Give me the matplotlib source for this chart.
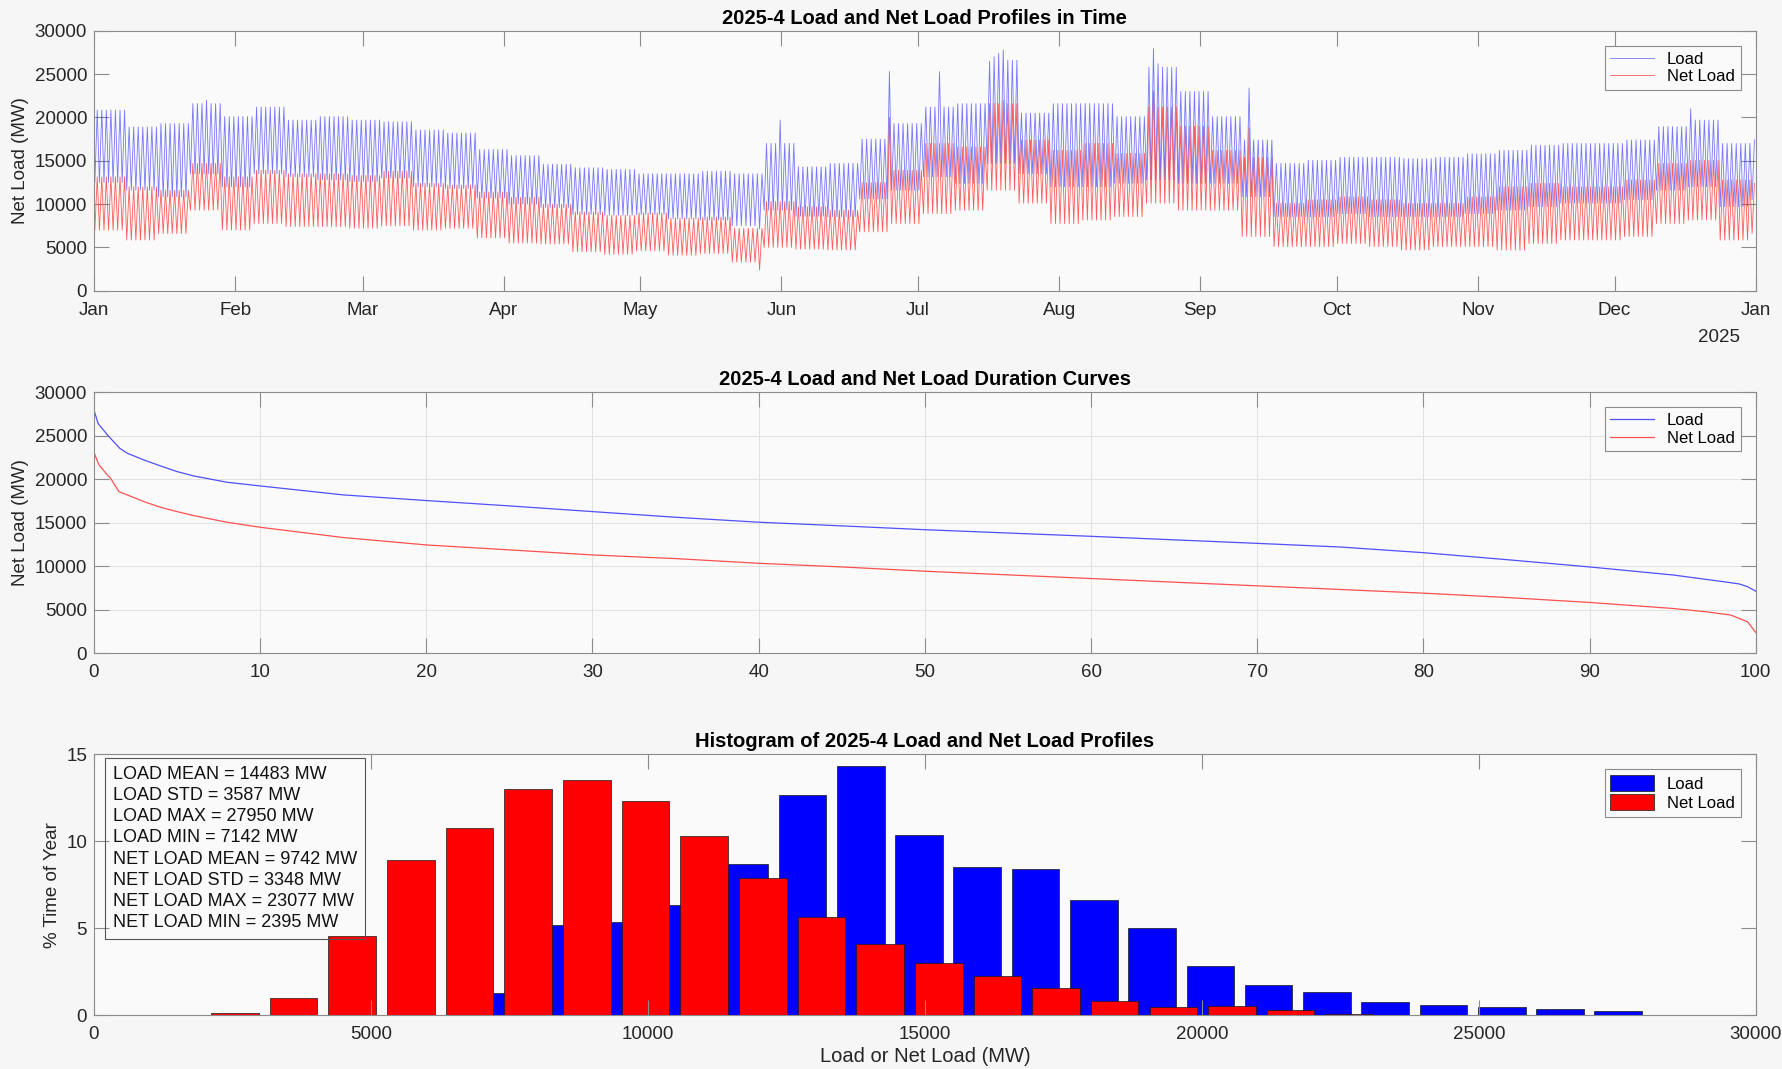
import numpy as np
import matplotlib.pyplot as plt

plt.rcParams['font.family'] = ['Liberation Sans', 'DejaVu Sans']

# ---- time profile: daily peak / trough per week (MW), week k starts on day 7*k
load_peak = [20850, 18900, 19300, 21600, 20100, 21200, 19700, 20100, 19700, 19500,
             18550, 18200, 16300, 15600, 14600, 14200, 14000, 13500, 13500, 13800,
             13500, 17000, 14300, 14700, 17500, 19300, 21200, 21600, 26600, 20500,
             21600, 21600, 20100, 25800, 23000, 20100, 17400, 14700, 15050, 15400,
             15400, 15250, 15400, 15800, 16200, 16800, 17000, 17000, 17400, 18950,
             19700, 17000, 17400]
load_trough = [12500, 11600, 10850, 13500, 12000, 13500, 13150, 12800, 12600, 13000,
               12000, 11800, 10700, 10000, 9600, 8800, 8700, 8800, 8300, 8150,
               7500, 9300, 8600, 8550, 10600, 11600, 13150, 12400, 14700, 13500,
               12000, 12000, 12400, 12800, 12400, 12400, 10850, 8550, 8550, 8900,
               8550, 8550, 8550, 8900, 9300, 9700, 10100, 10100, 10500, 11600,
               12000, 9700, 10500]
net_peak = [13150, 12000, 11600, 14700, 13150, 13900, 13500, 13500, 13300, 13800,
            12400, 12200, 11400, 10800, 10000, 9100, 8700, 9000, 8400, 8500,
            7200, 10300, 9700, 9300, 12500, 13900, 17000, 16600, 21600, 17400,
            16200, 17000, 15850, 21200, 19000, 16200, 15400, 10100, 10500, 10850,
            10500, 10100, 10100, 10850, 12000, 12400, 12000, 12000, 12800, 14700,
            15050, 12800, 12400]
net_trough = [7000, 5850, 6600, 9300, 7000, 7750, 7400, 7400, 7200, 7500,
              7000, 7200, 6100, 5500, 5400, 4500, 4200, 4600, 4100, 4300,
              3300, 5000, 4800, 4700, 6800, 7750, 8900, 9300, 11600, 10100,
              7750, 8150, 8550, 10100, 9300, 9300, 6250, 5100, 5100, 5450,
              5100, 4700, 5100, 5100, 4700, 5450, 5850, 5850, 6250, 7750,
              8150, 5850, 6600]

# single days that stand out (day of year -> MW)
load_peak_days = {24: 22000, 150: 19700, 174: 25300, 185: 25300, 196: 26500, 197: 27000,
                  198: 27400, 199: 27800, 232: 27950, 233: 26200, 253: 23400, 350: 21000}
net_peak_days = {174: 20000, 199: 22000, 232: 23077, 253: 18800}
load_trough_days = {146: 7142}
net_trough_days = {146: 2395}

month_starts = [0, 31, 59, 90, 120, 151, 181, 212, 243, 273, 304, 334, 365]
month_labels = ['Jan', 'Feb', 'Mar', 'Apr', 'May', 'Jun', 'Jul', 'Aug', 'Sep', 'Oct',
                'Nov', 'Dec', 'Jan']

# ---- duration curves (% of year, MW)
load_dur_pct = [0, 0.25, 0.86, 1.55, 2, 3, 4, 5, 6, 8, 10, 15, 20, 25, 30, 35, 40, 45,
                50, 60, 70, 75, 80, 85, 90, 95, 98, 99, 99.5, 100]
load_dur = [27950, 26400, 24980, 23560, 22990, 22220, 21530, 20880, 20380, 19655, 19230,
            18200, 17550, 16935, 16280, 15630, 15060, 14640, 14200, 13440, 12630, 12210,
            11560, 10760, 9920, 9000, 8240, 7970, 7660, 7142]
net_dur_pct = [0, 0.3, 0.8, 1.0, 1.5, 2, 3, 4, 5, 6, 8, 10, 15, 20, 25, 30, 35, 40, 45,
               50, 60, 70, 80, 85, 90, 95, 97, 98.5, 99.5, 100]
net_dur = [23077, 21650, 20500, 20110, 18580, 18200, 17430, 16780, 16280, 15820, 15060,
           14480, 13300, 12450, 11880, 11300, 10880, 10340, 9920, 9430, 8590, 7750, 6910,
           6410, 5840, 5150, 4770, 4390, 3630, 2395]

# ---- histogram (bin centre MW, % time of year)
load_bins = [7530, 8582, 9634, 10686, 11738, 12790, 13842, 14894, 15946, 16998,
             18050, 19102, 20154, 21206, 22258, 23310, 24362, 25414, 26466, 27518]
load_hist = [1.25, 5.15, 5.33, 6.35, 8.71, 12.65, 14.3, 10.38, 8.5, 8.38,
             6.6, 4.98, 2.83, 1.75, 1.35, 0.73, 0.58, 0.44, 0.33, 0.21]
net_bins = [2542, 3601, 4660, 5719, 6778, 7837, 8896, 9955, 11014, 12073,
            13132, 14191, 15250, 16309, 17368, 18427, 19486, 20545, 21604, 22663]
net_hist = [0.13, 0.96, 4.52, 8.9, 10.77, 13.0, 13.5, 12.3, 10.29, 7.88,
            5.63, 4.1, 2.98, 2.23, 1.54, 0.83, 0.46, 0.52, 0.27, 0.06]

stats = [
    ('LOAD MEAN', 14483), ('LOAD STD', 3587), ('LOAD MAX', 27950), ('LOAD MIN', 7142),
    ('NET LOAD MEAN', 9742), ('NET LOAD STD', 3348), ('NET LOAD MAX', 23077),
    ('NET LOAD MIN', 2395),
]

BG = '#f6f6f6'
AX_BG = '#fafafa'
EDGE = '#8c8c8c'
TXT = '#262626'


def daily_path(peaks, troughs, peak_days, trough_days):
    x, y = [], []
    for d in range(365):
        w = d // 7
        x += [d + 0.2, d + 0.72]
        y += [trough_days.get(d, troughs[w]), peak_days.get(d, peaks[w])]
    return np.array(x), np.array(y)


def style(ax):
    ax.set_facecolor(AX_BG)
    for s in ax.spines.values():
        s.set_color(EDGE)
        s.set_linewidth(0.8)
    ax.tick_params(direction='in', length=11, width=0.8, color=EDGE, labelsize=13.5,
                   labelcolor=TXT, top=True, right=True, pad=5)
    ax.tick_params(axis='x', pad=8)


def legend(ax, **kw):
    leg = ax.legend(loc='upper right', fontsize=12, fancybox=False, framealpha=1,
                    edgecolor=EDGE, facecolor=AX_BG, borderpad=0.35, labelspacing=0.15,
                    borderaxespad=0.9, **kw)
    leg.get_frame().set_linewidth(0.8)
    return leg


fig = plt.figure(figsize=(17.83, 10.69), dpi=100, facecolor=BG)
ax1 = fig.add_axes([0.0527, 0.728, 0.932, 0.2432])
ax2 = fig.add_axes([0.0527, 0.3889, 0.932, 0.2442])
ax3 = fig.add_axes([0.0527, 0.0505, 0.932, 0.2439])

# top: profiles in time
lx, ly = daily_path(load_peak, load_trough, load_peak_days, load_trough_days)
nx, ny = daily_path(net_peak, net_trough, net_peak_days, net_trough_days)
ax1.plot(lx, ly, color='#2020ff', lw=0.6, alpha=0.6, label='Load')
ax1.plot(nx, ny, color='#ff1a1a', lw=0.6, alpha=0.7, label='Net Load')
ax1.set_xlim(0, 365)
ax1.set_ylim(0, 30000)
ax1.set_xticks(month_starts)
ax1.set_xticklabels(month_labels)
ax1.set_yticks(range(0, 30001, 5000))
ax1.set_ylabel('Net Load (MW)', fontsize=13.5, color=TXT)
ax1.set_title('2025-4 Load and Net Load Profiles in Time', fontsize=14.5,
              fontweight='bold', pad=5)
ax1.text(0.978, -0.18, '2025', transform=ax1.transAxes, ha='center', va='center',
         fontsize=13.5, color=TXT)
style(ax1)
legend(ax1, handlelength=2.6)

# middle: duration curves
ax2.plot(load_dur_pct, load_dur, color='#5050ff', lw=0.9, label='Load')
ax2.plot(net_dur_pct, net_dur, color='#ff5050', lw=0.9, label='Net Load')
ax2.set_xlim(0, 100)
ax2.set_ylim(0, 30000)
ax2.set_xticks(range(0, 101, 10))
ax2.set_yticks(range(0, 30001, 5000))
ax2.grid(True, color='#e2e2e2', lw=0.7)
ax2.set_axisbelow(True)
ax2.set_ylabel('Net Load (MW)', fontsize=13.5, color=TXT)
ax2.set_title('2025-4 Load and Net Load Duration Curves', fontsize=14.5,
              fontweight='bold', pad=5)
style(ax2)
legend(ax2, handlelength=2.6)

# bottom: histogram
ax3.bar(load_bins, load_hist, width=860, color='#0000ff', edgecolor='#1a1a1a',
        linewidth=0.5, label='Load')
ax3.bar(net_bins, net_hist, width=860, color='#ff0000', edgecolor='#1a1a1a',
        linewidth=0.5, label='Net Load')
ax3.set_xlim(0, 30000)
ax3.set_ylim(0, 15)
ax3.set_xticks(range(0, 30001, 5000))
ax3.set_yticks(range(0, 16, 5))
ax3.set_ylabel('% Time of Year', fontsize=13.5, color=TXT)
ax3.set_xlabel('Load or Net Load (MW)', fontsize=14.5, color=TXT, labelpad=3)
ax3.set_title('Histogram of 2025-4 Load and Net Load Profiles', fontsize=14.5,
              fontweight='bold', pad=5)
style(ax3)
legend(ax3, handlelength=2.6, handleheight=1.1)
stat_text = '\n'.join(f'{k} = {v} MW' for k, v in stats)
ax3.text(0.0115, 0.955, stat_text, transform=ax3.transAxes, ha='left', va='top',
         fontsize=13, color='#111111', linespacing=1.32,
         bbox=dict(boxstyle='square,pad=0.45', facecolor='none', edgecolor='#555555',
                   linewidth=0.8))

fig.savefig('out.png', dpi=100, facecolor=BG)
